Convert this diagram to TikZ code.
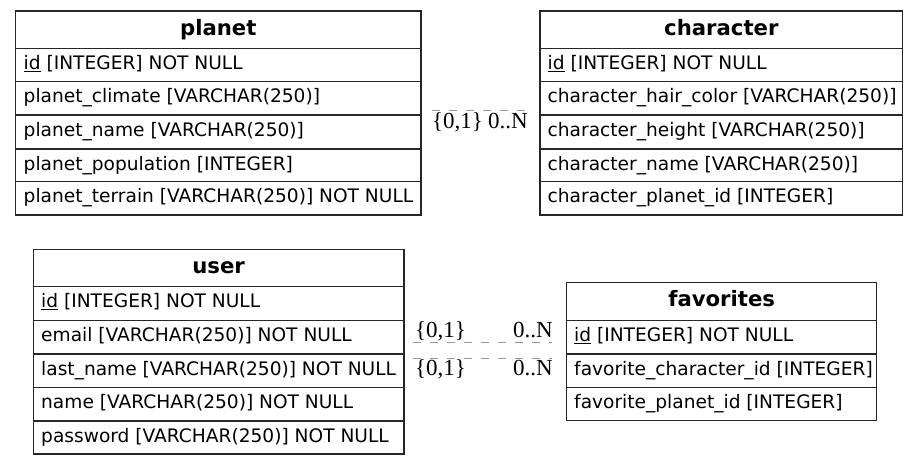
\documentclass[tikz,border=0pt]{standalone}
\usepackage{fontspec}
\setmainfont{DejaVu Sans}
\newfontfamily\lblfont{Liberation Serif}
\begin{document}
\begin{tikzpicture}[x=1pt,y=-1pt,
  tbl/.style={draw=black!85, line width=1.2pt},
  sep/.style={draw=black!85, line width=1.2pt},
  hdr/.style={font=\fontsize{21.2}{23}\selectfont\bfseries, anchor=base, inner sep=0pt},
  fld/.style={font=\fontsize{18.6}{20}\selectfont, anchor=base west, inner sep=0pt},
  cardl/.style={font=\lblfont\fontsize{23}{24}\selectfont, anchor=base west, inner sep=0pt},
  cardr/.style={font=\lblfont\fontsize{23}{24}\selectfont, anchor=base east, inner sep=0pt},
  rel/.style={draw=black!40, line width=1pt, dash pattern=on 8pt off 9pt}]
\useasboundingbox (0,0) rectangle (919,464);

% ---------- planet ----------
\draw[tbl] (15.5,11) rectangle (421,215);
\foreach \yy in {48.3,81.7,115,149,181.7}{\draw[sep] (15.5,\yy) -- (421,\yy);}
\node[hdr] (planet) at (218.25,35) {planet};
\node[fld] (planet-id) at (23.5,69.3) {\underline{id} [INTEGER] NOT NULL};
\node[fld] (planet-climate) at (23.5,102.7) {planet\_climate [VARCHAR(250)]};
\node[fld] (planet-name) at (23.5,136) {planet\_name [VARCHAR(250)]};
\node[fld] (planet-pop) at (23.5,170) {planet\_population [INTEGER]};
\node[fld] (planet-terrain) at (23.5,202.7) {planet\_terrain [VARCHAR(250)] NOT NULL};

% ---------- character ----------
\draw[tbl] (540,11) rectangle (902.7,215);
\foreach \yy in {48.3,81.7,115,149,181.7}{\draw[sep] (540,\yy) -- (902.7,\yy);}
\node[hdr] (character) at (721.35,35) {character};
\node[fld] (char-id) at (547.5,69.3) {\underline{id} [INTEGER] NOT NULL};
\node[fld] (char-hair) at (547.5,102.7) {character\_hair\_color [VARCHAR(250)]};
\node[fld] (char-height) at (547.5,136) {character\_height [VARCHAR(250)]};
\node[fld] (char-name) at (547.5,170) {character\_name [VARCHAR(250)]};
\node[fld] (char-planet) at (547.5,202.7) {character\_planet\_id [INTEGER]};

% ---------- user ----------
\draw[tbl] (33.3,249.3) rectangle (404,454);
\foreach \yy in {286.7,320.7,354,387.7,421}{\draw[sep] (33.3,\yy) -- (404,\yy);}
\node[hdr] (user) at (218.65,273.3) {user};
\node[fld] (user-id) at (41,307.7) {\underline{id} [INTEGER] NOT NULL};
\node[fld] (user-email) at (41,341.7) {email [VARCHAR(250)] NOT NULL};
\node[fld] (user-last) at (41,375) {last\_name [VARCHAR(250)] NOT NULL};
\node[fld] (user-name) at (41,408.7) {name [VARCHAR(250)] NOT NULL};
\node[fld] (user-pass) at (41,442) {password [VARCHAR(250)] NOT NULL};

% ---------- favorites ----------
\draw[tbl] (566.7,282.3) rectangle (876.7,420.7);
\foreach \yy in {320.7,354,387.3}{\draw[sep] (566.7,\yy) -- (876.7,\yy);}
\node[hdr] (favorites) at (721.7,306.3) {favorites};
\node[fld] (fav-id) at (574,341.7) {\underline{id} [INTEGER] NOT NULL};
\node[fld] (fav-char) at (574,375) {favorite\_character\_id [INTEGER]};
\node[fld] (fav-planet) at (574,408.3) {favorite\_planet\_id [INTEGER]};

% ---------- relations ----------
\coordinate (pc-a) at (432,110);
\coordinate (pc-b) at (528,110);
\draw[rel] (pc-a) -- (pc-b);
\node[cardl] (pc-l) at (432,128) {\{0,1\}};
\node[cardr] (pc-r) at (528,128) {0..N};

\coordinate (uf1-a) at (413,342);
\coordinate (uf1-b) at (552,342);
\draw[rel] (uf1-a) -- (uf1-b);
\node[cardl] (uf1-l) at (415,337) {\{0,1\}};
\node[cardr] (uf1-r) at (553,337) {0..N};

\coordinate (uf2-a) at (413,358);
\coordinate (uf2-b) at (552,358);
\draw[rel] (uf2-a) -- (uf2-b);
\node[cardl] (uf2-l) at (415,375) {\{0,1\}};
\node[cardr] (uf2-r) at (553,375) {0..N};
\end{tikzpicture}
\end{document}
